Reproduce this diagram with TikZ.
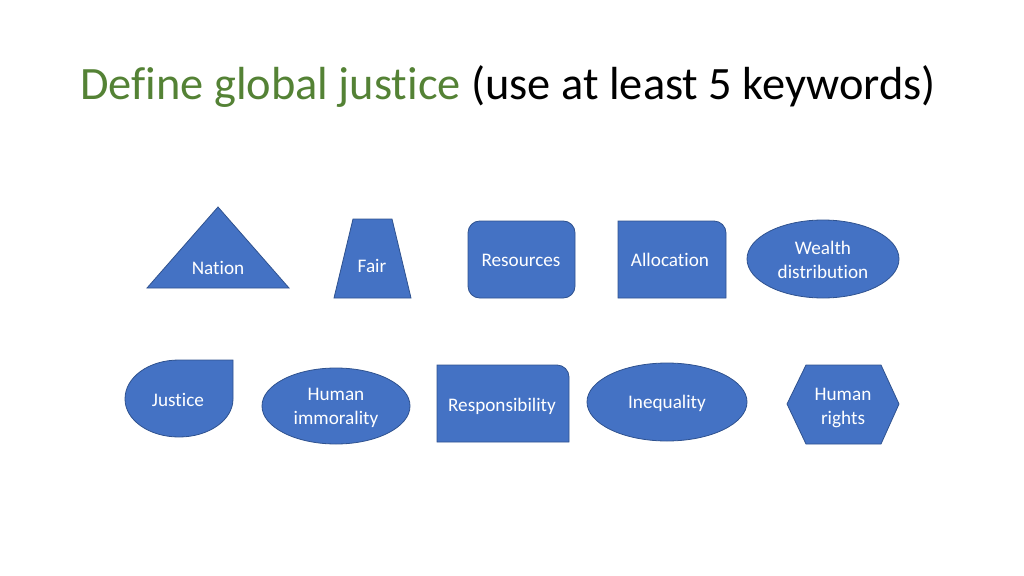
\documentclass[tikz,border=0pt]{standalone}
\usepackage{fontspec}
\setmainfont{Carlito}[Ligatures=NoCommon]
\definecolor{titlegreen}{RGB}{84,130,53}
\definecolor{shapefill}{RGB}{68,114,196}
\definecolor{shapeedge}{RGB}{47,82,143}
\tikzset{
  keyshape/.style={fill=shapefill,draw=shapeedge,line width=0.75pt},
  keyword/.style={text=white,font=\fontsize{18}{21.6}\selectfont,align=center,anchor=base,inner sep=0pt}
}
\begin{document}
\begin{tikzpicture}[x=0.9375pt,y=-0.9375pt]
    \useasboundingbox (0,0) rectangle (1024,576);
    % title
    \node[anchor=base west,inner sep=0pt,font=\fontsize{43.5}{52}\selectfont] (title) at (80,100)
        {\textcolor{titlegreen}{Define global justice} (use at least 5 keywords)};
    % first row
    \draw[keyshape] (218,207) -- (289,288) -- (147,288) -- cycle;
    \node[keyword] (nation) at (218,274) {Nation};
    \draw[keyshape] (353,219) -- (392,219) -- (411,298) -- (334,298) -- cycle;
    \node[keyword] (fair) at (372,272) {Fair};
    \draw[keyshape,rounded corners=11pt] (468,221) rectangle (575,298);
    \node[keyword] (resources) at (521,266) {Resources};
    \draw[keyshape] (618,298) -- (618,221) -- (714,221)
        .. controls (720.6,221) and (726,226.4) .. (726,233) -- (726,298) -- cycle;
    \node[keyword] (allocation) at (670,266) {Allocation};
    \draw[keyshape] (823,259) ellipse [x radius=76, y radius=39];
    \node[keyword] (wealth) at (823,278) {Wealth\\distribution};
    % second row
    \draw[keyshape] (233,360) -- (233,399)
        .. controls (233,420) and (209,437) .. (179,437)
        .. controls (149,437) and (125,420) .. (125,399)
        .. controls (125,377) and (149,360) .. (179,360) -- cycle;
    \node[keyword] (justice) at (178,406) {Justice};
    \draw[keyshape] (336,406) ellipse [x radius=74, y radius=38];
    \node[keyword] (immorality) at (336,424) {Human\\immorality};
    \draw[keyshape] (437,442) -- (437,365) -- (557,365)
        .. controls (563.6,365) and (569,370.4) .. (569,377) -- (569,442) -- cycle;
    \node[keyword] (responsibility) at (502,411) {Responsibility};
    \draw[keyshape] (667,402) ellipse [x radius=80, y radius=39];
    \node[keyword] (inequality) at (667,408) {Inequality};
    \draw[keyshape] (787,404) -- (806,365) -- (881,365) -- (899,404) -- (881,444) -- (806,444) -- cycle;
    \node[keyword] (rights) at (843,424) {Human\\rights};
\end{tikzpicture}
\end{document}
